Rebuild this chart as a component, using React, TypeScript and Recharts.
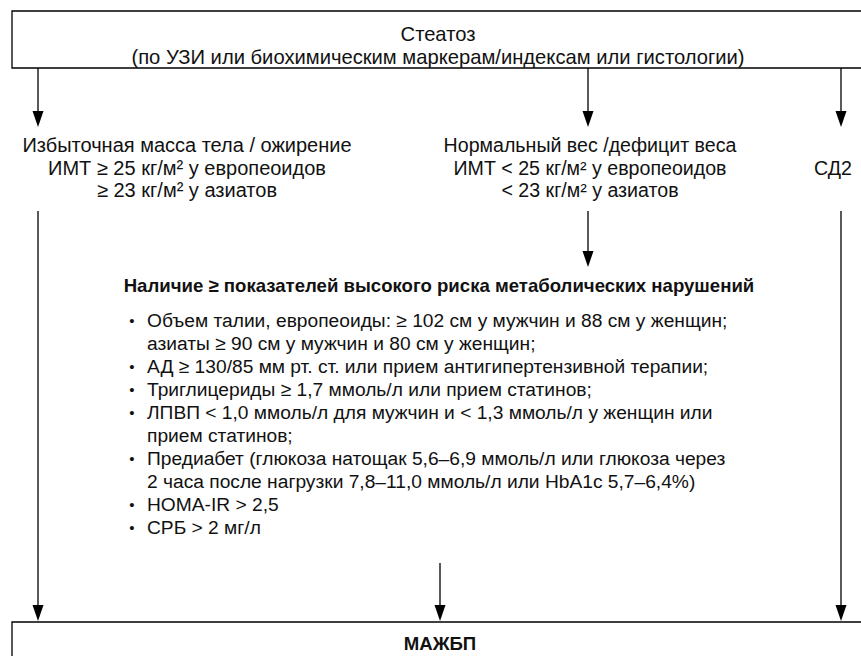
import React from "react";
import { ScatterChart, Scatter, XAxis, YAxis, ReferenceArea, ReferenceLine } from "recharts";

const W = 861;
const H = 656;
const FONT = "'Liberation Sans', Arial, sans-serif";

// Diagram nodes (boxes)
const boxes = [
  { id: "steatosis", x1: 12, x2: 900, y1: 11, y2: 68 },
  { id: "mafld", x1: 12, x2: 900, y1: 622, y2: 700 },
];

// Arrows: vertical connectors (x, from y, to y)
const arrows = [
  { x: 38, from: 68, to: 127 },
  { x: 588, from: 68, to: 127 },
  { x: 841, from: 68, to: 127 },
  { x: 588, from: 211, to: 267 },
  { x: 38, from: 211, to: 621 },
  { x: 440, from: 563, to: 621 },
  { x: 841, from: 211, to: 621 },
];

// Texts
const boxTexts = [
  { x: 438, y: 34, text: "Стеатоз", bold: false, anchor: "middle", size: 20.2 },
  { x: 438, y: 57, text: "(по УЗИ или биохимическим маркерам/индексам или гистологии)", bold: false, anchor: "middle", size: 20.2 },
  { x: 440, y: 643, text: "МАЖБП", bold: true, anchor: "middle", size: 18.6 },
];

const branchTexts = [
  { x: 187, y: 145, text: "Избыточная масса тела / ожирение", bold: false, anchor: "middle", size: 20 },
  { x: 187, y: 167.5, text: "ИМТ ≥ 25 кг/м² у европеоидов", bold: false, anchor: "middle", size: 20 },
  { x: 187, y: 190, text: "≥ 23 кг/м² у азиатов", bold: false, anchor: "middle", size: 20 },
  { x: 590, y: 145, text: "Нормальный вес /дефицит веса", bold: false, anchor: "middle", size: 19.6 },
  { x: 590, y: 167.5, text: "ИМТ < 25 кг/м² у европеоидов", bold: false, anchor: "middle", size: 19.6 },
  { x: 590, y: 190, text: "< 23 кг/м² у азиатов", bold: false, anchor: "middle", size: 19.6 },
  { x: 833, y: 167.5, text: "СД2", bold: false, anchor: "middle", size: 19.6 },
];

const heading = [
  { x: 439, y: 285, text: "Наличие ≥ показателей высокого риска метаболических нарушений", bold: true, anchor: "middle", size: 18.6 },
];

const criteriaLines = [
  "Объем талии, европеоиды: ≥ 102 см у мужчин и 88 см у женщин;",
  "азиаты ≥ 90 см у мужчин и 80 см у женщин;",
  "АД ≥ 130/85 мм рт. ст. или прием антигипертензивной терапии;",
  "Триглицериды ≥ 1,7 ммоль/л или прием статинов;",
  "ЛПВП < 1,0 ммоль/л для мужчин и < 1,3 ммоль/л у женщин или",
  "прием статинов;",
  "Предиабет (глюкоза натощак 5,6–6,9 ммоль/л или глюкоза через",
  "2 часа после нагрузки 7,8–11,0 ммоль/л или HbA1c 5,7–6,4%)",
  "HOMA-IR > 2,5",
  "СРБ > 2 мг/л",
];
const criteriaBullet = [true, false, true, true, true, false, true, false, true, true];
const criteriaY = [320, 343, 366, 389, 412, 435, 458, 481, 504, 527];

const criteriaTexts = criteriaLines.map((t, i) => ({ x: 147, y: criteriaY[i], text: t, bold: false, anchor: "start", size: 19.2 }));
const bulletPoints = criteriaY
  .map((y) => ({ x: 132, y, text: "•", bold: false, anchor: "middle", size: 15 }))
  .filter((_, i) => criteriaBullet[i]);

const allTexts = [...boxTexts, ...branchTexts, ...heading, ...criteriaTexts, ...bulletPoints];
const arrowHeads = arrows.map((a) => ({ x: a.x, y: a.to }));

const TextShape = (props: any) => {
  const { cx, cy, payload } = props;
  if (cx == null || cy == null) return null;
  return (
    <text
      x={cx}
      y={cy}
      textAnchor={payload.anchor}
      dominantBaseline="central"
      fontFamily={FONT}
      fontSize={payload.size}
      fontWeight={payload.bold ? 700 : 400}
      fill="#111"
    >
      {payload.text}
    </text>
  );
};

const HeadShape = (props: any) => {
  const { cx, cy } = props;
  if (cx == null || cy == null) return null;
  const hw = 5.5;
  const hh = 16;
  return <path d={`M${cx},${cy} L${cx - hw},${cy - hh} L${cx + hw},${cy - hh} Z`} fill="#000" />;
};

export default function App() {
  return (
    <div style={{ position: "absolute", left: 0, top: 0, width: W, height: H, background: "#fff" }}>
      <ScatterChart width={W} height={H} margin={{ top: 0, right: 0, bottom: 0, left: 0 }}>
        <XAxis type="number" dataKey="x" domain={[0, W]} hide allowDataOverflow />
        <YAxis type="number" dataKey="y" domain={[0, H]} hide reversed allowDataOverflow />
        {boxes.map((b) => (
          <ReferenceArea
            key={b.id}
            x1={b.x1}
            x2={b.x2}
            y1={b.y1}
            y2={b.y2}
            ifOverflow="visible"
            fill="#fff"
            fillOpacity={1}
            stroke="#000"
            strokeWidth={1.3}
          />
        ))}
        {arrows.map((a, i) => (
          <ReferenceLine
            key={i}
            segment={[{ x: a.x, y: a.from }, { x: a.x, y: a.to - 4 }]}
            stroke="#000"
            strokeWidth={1.3}
            ifOverflow="visible"
          />
        ))}
        <Scatter data={arrowHeads} shape={HeadShape} isAnimationActive={false} />
        <Scatter data={allTexts} shape={TextShape} isAnimationActive={false} />
      </ScatterChart>
    </div>
  );
}
